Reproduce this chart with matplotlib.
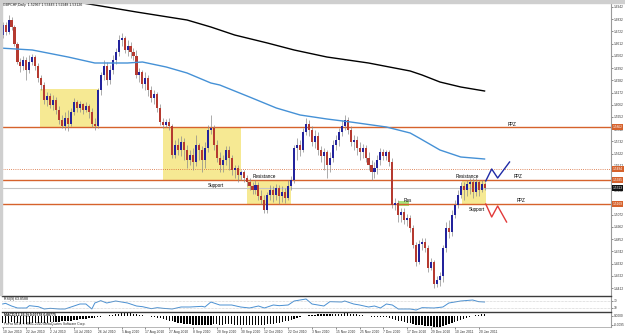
import matplotlib
matplotlib.use("Agg")
import matplotlib.pyplot as plt
import matplotlib.transforms as mtransforms
from matplotlib.patches import Rectangle
import numpy as np

plt.rcParams['font.family'] = ['Liberation Sans', 'DejaVu Sans']

# GBPCHF daily, 10 Jun 2010 .. 24 Jan 2011 (one row per trading day)
opens = [1.6690, 1.6780, 1.6717, 1.6825, 1.6762, 1.6609, 1.6447, 1.6411, 1.6465, 1.6375,
         1.6447, 1.6492, 1.6411, 1.6303, 1.6240, 1.6105, 1.6141, 1.6060, 1.6105, 1.6015,
         1.5925, 1.5871, 1.5943, 1.5889, 1.5997, 1.6087, 1.6033, 1.6069, 1.6015, 1.6051,
         1.5997, 1.5889, 1.5871, 1.6195, 1.6330, 1.6411, 1.6285, 1.6375, 1.6465, 1.6537,
         1.6645, 1.6663, 1.6555, 1.6591, 1.6537, 1.6501, 1.6330, 1.6357, 1.6249, 1.6303,
         1.6195, 1.6123, 1.6159, 1.6033, 1.5907, 1.5880, 1.5907, 1.5871, 1.5610, 1.5700,
         1.5655, 1.5727, 1.5655, 1.5565, 1.5610, 1.5547, 1.5700, 1.5655, 1.5565, 1.5673,
         1.5835, 1.5853, 1.5700, 1.5583, 1.5520, 1.5565, 1.5655, 1.5583, 1.5475, 1.5493,
         1.5430, 1.5457, 1.5403, 1.5367, 1.5331, 1.5295, 1.5340, 1.5241, 1.5205, 1.5115,
         1.5250, 1.5295, 1.5250, 1.5313, 1.5241, 1.5277, 1.5223, 1.5331, 1.5385, 1.5673,
         1.5700, 1.5655, 1.5817, 1.5889, 1.5835, 1.5727, 1.5781, 1.5655, 1.5601, 1.5637,
         1.5520, 1.5583, 1.5700, 1.5745, 1.5817, 1.5871, 1.5925, 1.5835, 1.5727, 1.5745,
         1.5673, 1.5637, 1.5673, 1.5583, 1.5520, 1.5457, 1.5493, 1.5565, 1.5637, 1.5601,
         1.5637, 1.5547, 1.5160, 1.5178, 1.5070, 1.5097, 1.5025, 1.5043, 1.4953, 1.4800,
         1.4647, 1.4809, 1.4827, 1.4773, 1.4593, 1.4647, 1.4449, 1.4485, 1.4521, 1.4773,
         1.4953, 1.4917, 1.5070, 1.5160, 1.5250, 1.5331, 1.5295, 1.5349, 1.5367, 1.5277,
         1.5367, 1.5295, 1.5349]
highs = [1.6807, 1.6807, 1.6870, 1.6852, 1.6780, 1.6627, 1.6483, 1.6501, 1.6492, 1.6510,
         1.6519, 1.6510, 1.6438, 1.6330, 1.6267, 1.6177, 1.6168, 1.6150, 1.6132, 1.6051,
         1.5970, 1.5997, 1.6015, 1.6033, 1.6123, 1.6105, 1.6096, 1.6078, 1.6087, 1.6069,
         1.6033, 1.5943, 1.6213, 1.6357, 1.6465, 1.6447, 1.6420, 1.6510, 1.6573, 1.6690,
         1.6708, 1.6681, 1.6645, 1.6627, 1.6573, 1.6555, 1.6393, 1.6375, 1.6357, 1.6330,
         1.6231, 1.6195, 1.6177, 1.6069, 1.5943, 1.5934, 1.5943, 1.5889, 1.5745, 1.5763,
         1.5781, 1.5763, 1.5700, 1.5655, 1.5673, 1.5790, 1.5718, 1.5691, 1.5727, 1.5880,
         1.5970, 1.5880, 1.5745, 1.5637, 1.5610, 1.5691, 1.5691, 1.5610, 1.5520, 1.5520,
         1.5475, 1.5475, 1.5430, 1.5403, 1.5367, 1.5385, 1.5367, 1.5295, 1.5250, 1.5277,
         1.5340, 1.5331, 1.5349, 1.5340, 1.5331, 1.5313, 1.5385, 1.5421, 1.5700, 1.5763,
         1.5745, 1.5853, 1.5943, 1.5925, 1.5871, 1.5835, 1.5817, 1.5691, 1.5673, 1.5655,
         1.5637, 1.5745, 1.5790, 1.5853, 1.5925, 1.5970, 1.5952, 1.5871, 1.5790, 1.5781,
         1.5727, 1.5709, 1.5700, 1.5637, 1.5565, 1.5547, 1.5610, 1.5673, 1.5664, 1.5655,
         1.5655, 1.5583, 1.5223, 1.5205, 1.5133, 1.5133, 1.5079, 1.5070, 1.4980, 1.4827,
         1.4845, 1.4863, 1.4863, 1.4800, 1.4683, 1.4665, 1.4521, 1.4557, 1.4800, 1.5007,
         1.5025, 1.5115, 1.5205, 1.5295, 1.5367, 1.5367, 1.5385, 1.5403, 1.5403, 1.5403,
         1.5385, 1.5385, 1.5367]
lows = [1.6663, 1.6690, 1.6699, 1.6735, 1.6591, 1.6429, 1.6357, 1.6375, 1.6285, 1.6348,
        1.6420, 1.6375, 1.6267, 1.6195, 1.6069, 1.6051, 1.6033, 1.6015, 1.5979, 1.5889,
        1.5853, 1.5835, 1.5826, 1.5871, 1.5970, 1.5997, 1.5997, 1.5979, 1.5997, 1.5943,
        1.5862, 1.5835, 1.5853, 1.6150, 1.6285, 1.6240, 1.6249, 1.6339, 1.6429, 1.6501,
        1.6591, 1.6528, 1.6501, 1.6483, 1.6465, 1.6303, 1.6267, 1.6213, 1.6195, 1.6141,
        1.6087, 1.6069, 1.5997, 1.5880, 1.5853, 1.5862, 1.5835, 1.5583, 1.5583, 1.5610,
        1.5601, 1.5565, 1.5493, 1.5520, 1.5475, 1.5511, 1.5565, 1.5457, 1.5493, 1.5637,
        1.5799, 1.5655, 1.5547, 1.5457, 1.5457, 1.5520, 1.5475, 1.5430, 1.5403, 1.5367,
        1.5385, 1.5367, 1.5331, 1.5295, 1.5259, 1.5259, 1.5205, 1.5169, 1.5088, 1.5088,
        1.5205, 1.5187, 1.5205, 1.5169, 1.5187, 1.5178, 1.5205, 1.5295, 1.5358, 1.5565,
        1.5601, 1.5637, 1.5790, 1.5781, 1.5691, 1.5673, 1.5610, 1.5547, 1.5475, 1.5403,
        1.5457, 1.5547, 1.5655, 1.5691, 1.5781, 1.5835, 1.5799, 1.5691, 1.5655, 1.5610,
        1.5565, 1.5583, 1.5547, 1.5475, 1.5385, 1.5403, 1.5439, 1.5520, 1.5565, 1.5565,
        1.5511, 1.5133, 1.5115, 1.5007, 1.5007, 1.4989, 1.4971, 1.4917, 1.4773, 1.4611,
        1.4629, 1.4755, 1.4737, 1.4557, 1.4575, 1.4413, 1.4422, 1.4431, 1.4467, 1.4737,
        1.4863, 1.4881, 1.5043, 1.5133, 1.5223, 1.5205, 1.5241, 1.5259, 1.5223, 1.5241,
        1.5241, 1.5277, 1.5295]
closes = [1.6780, 1.6717, 1.6825, 1.6762, 1.6609, 1.6447, 1.6411, 1.6465, 1.6375, 1.6447,
          1.6492, 1.6411, 1.6303, 1.6240, 1.6105, 1.6141, 1.6060, 1.6105, 1.6015, 1.5925,
          1.5871, 1.5943, 1.5889, 1.5997, 1.6087, 1.6033, 1.6069, 1.6015, 1.6051, 1.5997,
          1.5889, 1.5871, 1.6195, 1.6330, 1.6411, 1.6285, 1.6375, 1.6465, 1.6537, 1.6645,
          1.6663, 1.6555, 1.6591, 1.6537, 1.6501, 1.6330, 1.6357, 1.6249, 1.6303, 1.6195,
          1.6123, 1.6159, 1.6033, 1.5907, 1.5880, 1.5907, 1.5871, 1.5610, 1.5700, 1.5655,
          1.5727, 1.5655, 1.5565, 1.5610, 1.5547, 1.5700, 1.5655, 1.5565, 1.5673, 1.5835,
          1.5853, 1.5700, 1.5583, 1.5520, 1.5565, 1.5655, 1.5583, 1.5475, 1.5493, 1.5430,
          1.5457, 1.5403, 1.5367, 1.5331, 1.5295, 1.5340, 1.5241, 1.5205, 1.5115, 1.5250,
          1.5295, 1.5250, 1.5313, 1.5241, 1.5277, 1.5223, 1.5331, 1.5385, 1.5673, 1.5700,
          1.5655, 1.5817, 1.5889, 1.5835, 1.5727, 1.5781, 1.5655, 1.5601, 1.5637, 1.5520,
          1.5583, 1.5700, 1.5745, 1.5817, 1.5871, 1.5925, 1.5835, 1.5727, 1.5745, 1.5673,
          1.5637, 1.5673, 1.5583, 1.5520, 1.5457, 1.5493, 1.5565, 1.5637, 1.5601, 1.5637,
          1.5547, 1.5160, 1.5178, 1.5070, 1.5097, 1.5025, 1.5043, 1.4953, 1.4800, 1.4647,
          1.4809, 1.4827, 1.4773, 1.4593, 1.4647, 1.4449, 1.4485, 1.4521, 1.4773, 1.4953,
          1.4917, 1.5070, 1.5160, 1.5250, 1.5331, 1.5295, 1.5349, 1.5367, 1.5277, 1.5367,
          1.5295, 1.5349, 1.5313]

# moving averages at a few bars
ma_slow_bars = [15, 23, 45, 62, 70, 78, 89, 98, 109, 123, 137, 141, 147, 154, 162]
ma_slow_vals = [1.7032, 1.6996, 1.6897, 1.6825, 1.6762, 1.6690, 1.6618, 1.6555, 1.6492,
                1.6438, 1.6366, 1.6330, 1.6267, 1.6222, 1.6186]
ma_fast_bars = [-1, 10, 22, 31, 42, 47, 55, 62, 70, 73, 83, 92, 100, 109, 117, 129, 137,
                140, 147, 154, 162]
ma_fast_vals = [1.6573, 1.6555, 1.6492, 1.6438, 1.6438, 1.6447, 1.6402, 1.6348, 1.6258,
                1.6240, 1.6132, 1.6033, 1.5970, 1.5934, 1.5907, 1.5862, 1.5808, 1.5763,
                1.5655, 1.5592, 1.5574]

# drawn levels
ppz_top = 1.5862
dotted_lvl = 1.5484
resistance = 1.5385
support = 1.5169
last_price = 1.5313

# highlighted zones (bar from, bar to, price low, price high)
zones = [(12.5, 32.5, ppz_top, 1.6204),
         (54.0, 80.0, resistance, ppz_top),
         (82.0, 97.0, support, resistance),
         (154.5, 162.5, support, resistance)]
res_zone = (132.8, 136.5, 1.5151, 1.5196)

# projected scenarios
up_bars = [162.4, 164.4, 166.4, 170.4]
up_vals = [1.5376, 1.5484, 1.5403, 1.5547]
dn_bars = [162.4, 164.4, 166.4, 169.4]
dn_vals = [1.5169, 1.5052, 1.5151, 1.5007]

# RSI(9)
rsi_bars = [0, 1, 3, 5, 8, 9, 12, 14, 16, 19, 21, 24, 26, 28, 30, 31, 33, 35, 38, 40, 42,
            45, 47, 50, 52, 54, 57, 60, 63, 67, 68, 70, 73, 77, 80, 83, 86, 88, 91, 93, 96,
            98, 100, 102, 104, 108, 110, 114, 115, 118, 120, 123, 125, 127, 129, 131, 133,
            137, 139, 141, 145, 148, 150, 154, 158, 160, 162]
rsi_vals = [52, 56, 40, 28, 28, 42, 36, 22, 26, 22, 22, 40, 52, 52, 22, 58, 72, 58, 70, 64,
            58, 40, 36, 24, 30, 26, 22, 34, 34, 38, 34, 64, 46, 46, 34, 28, 40, 28, 46, 42,
            46, 70, 76, 82, 52, 40, 66, 64, 70, 52, 46, 34, 40, 28, 52, 46, 22, 22, 16, 30,
            28, 34, 58, 70, 76, 66, 64]

# MACD(12,26,9) histogram, one value per bar
macd_hist = [-0.0070, -0.0072, -0.0070, -0.0068, -0.0070, -0.0075, -0.0080, -0.0082, -0.0082, -0.0080,
             -0.0078, -0.0076, -0.0075, -0.0074, -0.0072, -0.0070, -0.0068, -0.0065, -0.0062, -0.0060,
             -0.0058, -0.0056, -0.0053, -0.0050, -0.0046, -0.0042, -0.0038, -0.0034, -0.0030, -0.0027,
             -0.0025, -0.0022, -0.0016, -0.0010, -0.0005, 0.0000, 0.0005, 0.0010, 0.0015, 0.0020,
             0.0024, 0.0025, 0.0024, 0.0022, 0.0018, 0.0012, 0.0008, 0.0004, 0.0000, -0.0005,
             -0.0010, -0.0015, -0.0020, -0.0028, -0.0035, -0.0042, -0.0050, -0.0058, -0.0064, -0.0070,
             -0.0075, -0.0080, -0.0084, -0.0088, -0.0090, -0.0092, -0.0094, -0.0095, -0.0096, -0.0094,
             -0.0090, -0.0088, -0.0088, -0.0090, -0.0090, -0.0088, -0.0088, -0.0089, -0.0090, -0.0090,
             -0.0090, -0.0090, -0.0091, -0.0092, -0.0092, -0.0091, -0.0090, -0.0090, -0.0090, -0.0088,
             -0.0085, -0.0082, -0.0078, -0.0072, -0.0065, -0.0058, -0.0050, -0.0042, -0.0032, -0.0024,
             -0.0016, -0.0008, -0.0002, 0.0004, 0.0008, 0.0010, 0.0012, 0.0012, 0.0012, 0.0013,
             0.0014, 0.0015, 0.0016, 0.0018, 0.0020, 0.0022, 0.0022, 0.0020, 0.0017, 0.0013,
             0.0008, 0.0004, 0.0000, -0.0005, -0.0010, -0.0014, -0.0016, -0.0017, -0.0018, -0.0018,
             -0.0020, -0.0030, -0.0040, -0.0050, -0.0058, -0.0065, -0.0072, -0.0078, -0.0085, -0.0092,
             -0.0096, -0.0098, -0.0100, -0.0103, -0.0106, -0.0110, -0.0112, -0.0112, -0.0108, -0.0098,
             -0.0088, -0.0076, -0.0064, -0.0052, -0.0040, -0.0030, -0.0021, -0.0013, -0.0006, 0.0002,
             0.0008, 0.0012, 0.0015]

date_labels = ["10 Jun 2010", "22 Jun 2010", "2 Jul 2010", "14 Jul 2010", "26 Jul 2010",
               "5 Aug 2010", "17 Aug 2010", "27 Aug 2010", "8 Sep 2010", "20 Sep 2010",
               "30 Sep 2010", "12 Oct 2010", "22 Oct 2010", "3 Nov 2010", "15 Nov 2010",
               "25 Nov 2010", "7 Dec 2010", "17 Dec 2010", "29 Dec 2010", "10 Jan 2011",
               "20 Jan 2011"]
price_ticks = [1.6942 - 0.0110 * k for k in range(24)]

W, H = 625, 334
BULL = '#23239c'
BEAR = '#b53a30'
ORANGE = '#d6622c'
AXC = '#9a9a9a'
LBL = 2.3  # right scale font size


def px_box(x0, y0, x1, y1):
    return [x0 / W, 1 - y1 / H, (x1 - x0) / W, (y1 - y0) / H]


fig = plt.figure(figsize=(6.25, 3.34), dpi=100)
fig.patches.append(Rectangle((0, 1 - 3 / H), 1, 3 / H, transform=fig.transFigure,
                             color='#cfcfcf', zorder=0))
fig.patches.append(Rectangle((0, 1 - 295 / H), 2 / W, 292 / H, transform=fig.transFigure,
                             color='#cfcfcf', zorder=0))

ax = fig.add_axes(px_box(2, 3, 611, 295))
ax_rsi = fig.add_axes(px_box(2, 296, 611, 312))
ax_macd = fig.add_axes(px_box(2, 312, 611, 327))
xlim = (-0.2, 204.5)

# ---- price pane
idx = np.arange(len(closes))
o = np.array(opens)
c = np.array(closes)
up = c >= o
ax.vlines(idx, lows, highs, color='#8a8a8a', lw=0.5, zorder=4)
body = np.maximum(np.abs(c - o), 0.00025)
ax.bar(idx, body, bottom=np.minimum(o, c), width=0.7,
       color=np.where(up, BULL, BEAR), linewidth=0, zorder=5)

for b0, b1, p0, p1 in zones:
    ax.add_patch(Rectangle((b0, p0), b1 - b0, p1 - p0, color='#f6e993', lw=0, zorder=1))
ax.add_patch(Rectangle((res_zone[0], res_zone[2]), res_zone[1] - res_zone[0],
                       res_zone[3] - res_zone[2], color='#a8e27c', lw=0, zorder=2))

ax.axhline(last_price, color='#c4c4c4', lw=0.8, zorder=2)
for lvl in (ppz_top, resistance, support):
    ax.axhline(lvl, color=ORANGE, lw=1.0, zorder=3)
ax.axhline(dotted_lvl, color=ORANGE, lw=0.6, ls=(0, (1, 1.6)), zorder=3)

ax.plot(ma_slow_bars, ma_slow_vals, color='black', lw=1.0, zorder=6)
ax.plot(ma_fast_bars, ma_fast_vals, color='#4591d6', lw=1.0, zorder=6)
ax.plot(up_bars, up_vals, color='#1f2aa6', lw=1.0, zorder=6)
ax.plot(dn_bars, dn_vals, color='#e23a3a', lw=1.0, zorder=6)

fs = 3.3
ax.text(84, 1.5421, 'Resistance', fontsize=fs, va='center', zorder=7)
ax.text(68.9, 1.5331, 'Support', fontsize=fs, va='center', zorder=7)
ax.text(134.8, 1.5205, 'Res', fontsize=fs, va='center', zorder=7)
ax.text(152.3, 1.5421, 'Resistance', fontsize=fs, va='center', zorder=7)
ax.text(156.6, 1.5124, 'Support', fontsize=fs, va='center', zorder=7)
ax.text(169.7, 1.5889, 'PPZ', fontsize=fs, va='center', zorder=7)
ax.text(171.8, 1.5412, 'PPZ', fontsize=fs, va='center', zorder=7)
ax.text(172.8, 1.5196, 'PPZ', fontsize=fs, va='center', zorder=7)

ax.set_xlim(*xlim)
ax.set_ylim(1.4350, 1.6978)
ax.set_xticks([])
ax.yaxis.tick_right()
ax.set_yticks(price_ticks)
ax.set_yticklabels([f'{p:.4f}' for p in price_ticks])
ax.tick_params(axis='y', length=1.2, width=0.4, pad=0.8, labelsize=LBL,
               colors='#333333')
for s in ('top', 'left', 'bottom'):
    ax.spines[s].set_visible(False)
ax.spines['right'].set_color(AXC)
ax.spines['right'].set_linewidth(0.8)

# right-axis markers for the drawn levels
tr = mtransforms.blended_transform_factory(ax.transAxes, ax.transData)
for lvl, col in ((ppz_top, ORANGE), (dotted_lvl, ORANGE), (resistance, ORANGE),
                 (support, ORANGE), (last_price, '#111111')):
    ax.text(1.003, lvl, f'{lvl:.4f}', transform=tr, fontsize=LBL, color='white',
            va='center', ha='left', clip_on=False, zorder=8,
            bbox=dict(boxstyle='square,pad=0.2', fc=col, ec='none'))

fig.text(3 / W, 1 - 5 / H, 'GBPCHF,Daily  1.52967 1.53443 1.52948 1.53126',
         fontsize=2.5, va='center', ha='left', color='#111111')

# ---- RSI pane
ax_rsi.plot(rsi_bars, rsi_vals, color='#4a90d2', lw=0.7)
for lv in (70, 30):
    ax_rsi.axhline(lv, color='#a8a8a8', lw=0.4, ls=(0, (1, 1.5)))
ax_rsi.set_xlim(*xlim)
ax_rsi.set_ylim(4, 100)
ax_rsi.set_xticks([])
ax_rsi.yaxis.tick_right()
ax_rsi.set_yticks([70, 30])
ax_rsi.set_yticklabels(['70', '30'])
ax_rsi.tick_params(axis='y', length=1.2, width=0.4, pad=0.8, labelsize=LBL, colors='#333333')
ax_rsi.text(0.5, 95, 'RSI(9) 63.8588', fontsize=2.5, va='top', ha='left', color='#111111')
for s in ('left', 'bottom'):
    ax_rsi.spines[s].set_visible(False)
ax_rsi.spines['top'].set_color('#3c3c3c')
ax_rsi.spines['top'].set_linewidth(1.0)
ax_rsi.spines['right'].set_color(AXC)
ax_rsi.spines['right'].set_linewidth(0.8)

# ---- MACD pane
ax_macd.bar(idx, macd_hist, width=0.45, color='black', linewidth=0)
ax_macd.set_xlim(*xlim)
ax_macd.set_ylim(-0.0115, 0.0035)
ax_macd.yaxis.tick_right()
ax_macd.set_yticks([0.0, -0.0095])
ax_macd.set_yticklabels(['0.0000', '-0.0095'])
ax_macd.tick_params(axis='y', length=1.2, width=0.4, pad=0.8, labelsize=LBL, colors='#333333')
ax_macd.set_xticks(np.arange(0, 161, 8))
ax_macd.set_xticklabels(date_labels)
ax_macd.tick_params(axis='x', length=1.5, width=0.4, pad=0.6, labelsize=2.4,
                    colors='#333333')
for lab in ax_macd.get_xticklabels():
    lab.set_ha('left')
ax_macd.text(0.5, 0.0028, 'MACD(12,26,9) 0.00778 0.00775', fontsize=2.5, va='top',
             ha='left', color='#111111', fontweight='bold')
ax_macd.text(0.5, -0.0068, 'FxPro MT4, \u00a9 2001-2010 MetaQuotes Software Corp.',
             fontsize=2.4, va='top', ha='left', color='#222222')
ax_macd.spines['left'].set_visible(False)
ax_macd.spines['top'].set_color('#3c3c3c')
ax_macd.spines['top'].set_linewidth(1.0)
ax_macd.spines['right'].set_color(AXC)
ax_macd.spines['right'].set_linewidth(0.8)
ax_macd.spines['bottom'].set_color(AXC)
ax_macd.spines['bottom'].set_linewidth(0.5)

fig.savefig('out.png', dpi=100, facecolor='white')
